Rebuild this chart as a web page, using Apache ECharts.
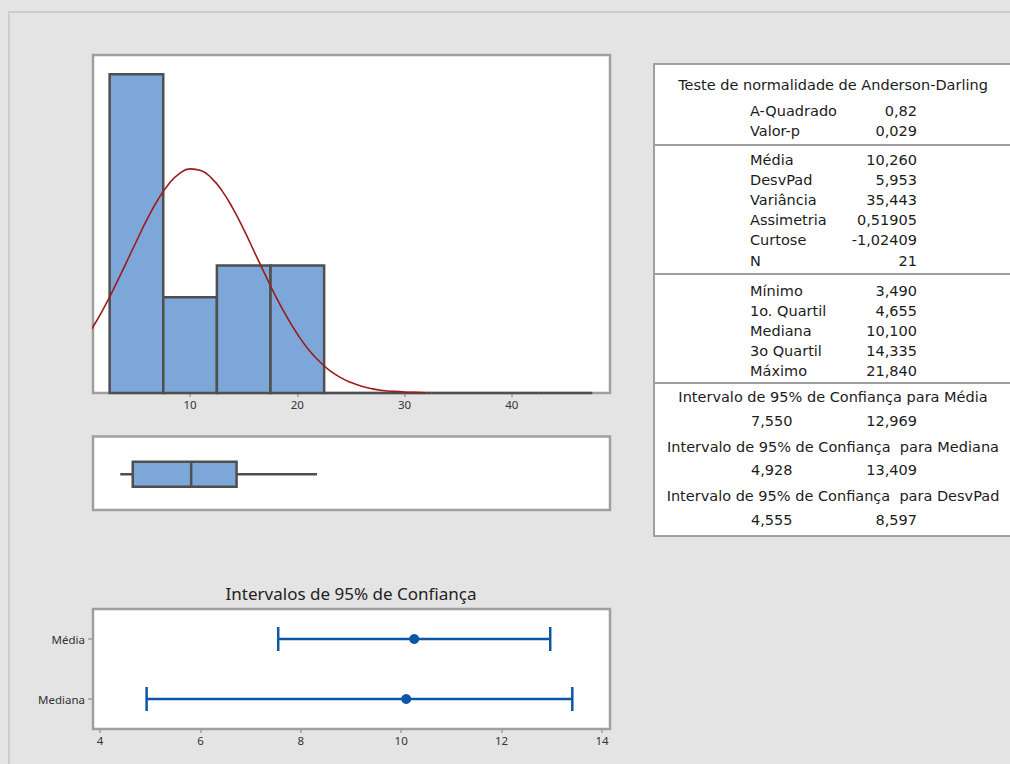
<!DOCTYPE html>
<html>
<head>
<meta charset="utf-8">
<script src="https://cdn.jsdelivr.net/npm/echarts@6/dist/echarts.min.js"></script>
<style>
html,body{margin:0;padding:0;background:#e4e4e4;}
#main{width:1010px;height:764px;}
</style>
</head>
<body>
<div id="main"></div>
<script>
// ---------- data ----------
const histBinEdges = [2.5, 7.5, 12.5, 17.5, 22.5, 27.5, 32.5, 37.5, 42.5, 47.5];
const histCounts   = [10, 3, 4, 4, 0, 0, 0, 0, 0];
const histTicks    = [10, 20, 30, 40];

const curveX = [0,1,2,3,4,5,6,7,8,9,10,11,12,13,14,15,16,17,18,19,20,21,22,23,24,25,26,27,28,29,30,31,32];
const curveY = [1.59,2.10,2.69,3.35,4.05,4.76,5.45,6.06,6.55,6.88,7.03,6.98,6.74,6.33,5.78,5.13,4.42,3.71,3.02,2.40,1.85,1.38,1.01,0.71,0.49,0.33,0.21,0.13,0.08,0.05,0.03,0.02,0.01];

const boxStats = [3.490, 4.655, 10.100, 14.335, 21.840]; // min, Q1, median, Q3, max

const ciCategories = ['Média', 'Mediana'];
const ciLow  = [7.550, 4.928];
const ciMid  = [10.260, 10.100];
const ciHigh = [12.969, 13.409];
const ciTicks = [4, 6, 8, 10, 12, 14];
const ciTitle = 'Intervalos de 95% de Confiança';

const adTitle  = 'Teste de normalidade de Anderson-Darling';
const adLabels = ['A-Quadrado', 'Valor-p'];
const adValues = ['0,82', '0,029'];
const descLabels = ['Média', 'DesvPad', 'Variância', 'Assimetria', 'Curtose', 'N'];
const descValues = ['10,260', '5,953', '35,443', '0,51905', '-1,02409', '21'];
const quantLabels = ['Mínimo', '1o. Quartil', 'Mediana', '3o Quartil', 'Máximo'];
const quantValues = ['3,490', '4,655', '10,100', '14,335', '21,840'];
const ciHeaders = ['Intervalo de 95% de Confiança para Média',
                   'Intervalo de 95% de Confiança  para Mediana',
                   'Intervalo de 95% de Confiança  para DesvPad'];
const ciTableLow  = ['7,550', '4,928', '4,555'];
const ciTableHigh = ['12,969', '13,409', '8,597'];

// ---------- styles ----------
const FRAME = '#9f9f9f';
const BAR_FILL = '#7da7d9';
const BAR_EDGE = '#4f4f4f';
const CURVE = '#9c1b1b';
const CI_BLUE = '#0b57a6';
const AXFONT = 'Noto Sans';
const TABFONT = 'DejaVu Sans';

const histData = histCounts.map((c, i) => [histBinEdges[i], histBinEdges[i + 1], c]);
const curveData = curveX.map((x, i) => [x, curveY[i]]);
const ciData = ciCategories.map((c, i) => [ciLow[i], ciHigh[i], i]);
const ciMidData = ciCategories.map((c, i) => [ciMid[i], i]);

// ---------- table graphics ----------
const graphics = [];
graphics.push({type: 'rect', shape: {x: 9, y: 12, width: 1030, height: 790},
  style: {fill: '#e4e4e4', stroke: '#cdcdcd', lineWidth: 2}, z: -10});
graphics.push({type: 'rect', shape: {x: 654, y: 64, width: 362, height: 472},
  style: {fill: '#ffffff', stroke: FRAME, lineWidth: 2}, z: -5});
[145, 274, 383].forEach(y => graphics.push({type: 'line',
  shape: {x1: 654, y1: y, x2: 1016, y2: y}, style: {stroke: FRAME, lineWidth: 2}}));

function txt(text, x, y, align) {
  return {type: 'text', x: x, y: y,
    style: {text: text, fontFamily: TABFONT, fontSize: 14.5, fill: '#1c1c1c',
      align: align, verticalAlign: 'middle'}};
}
const LX = 750, RX = 917, CX = 833;
graphics.push(txt(adTitle, CX, 85, 'center'));
adLabels.forEach((l, i) => { graphics.push(txt(l, LX, 111 + 20 * i, 'left')); graphics.push(txt(adValues[i], RX, 111 + 20 * i, 'right')); });
descLabels.forEach((l, i) => { graphics.push(txt(l, LX, 160 + 20.1 * i, 'left')); graphics.push(txt(descValues[i], RX, 160 + 20.1 * i, 'right')); });
quantLabels.forEach((l, i) => { graphics.push(txt(l, LX, 291 + 19.9 * i, 'left')); graphics.push(txt(quantValues[i], RX, 291 + 19.9 * i, 'right')); });
ciHeaders.forEach((h, i) => {
  graphics.push(txt(h, CX, 397 + 49.7 * i, 'center'));
  graphics.push(txt(ciTableLow[i], 751, 420.5 + 49.7 * i, 'left'));
  graphics.push(txt(ciTableHigh[i], RX, 420.5 + 49.7 * i, 'right'));
});
graphics.push({type: 'text', x: 351, y: 593,
  style: {text: ciTitle, fontFamily: AXFONT, fontSize: 17, fill: '#222', align: 'center', verticalAlign: 'middle'}});

// ---------- chart ----------
const chart = echarts.init(document.getElementById('main'), null, {renderer: 'svg'});
const gridStyle = {show: true, backgroundColor: '#ffffff', borderColor: FRAME, borderWidth: 2.5, containLabel: false};
const option = {
  backgroundColor: '#e4e4e4',
  animation: false,
  graphic: graphics,
  grid: [
    Object.assign({left: 93, top: 55, width: 517, height: 338}, gridStyle),
    Object.assign({left: 93, top: 436.5, width: 517, height: 73.5}, gridStyle),
    Object.assign({left: 93, top: 609, width: 517, height: 120}, gridStyle)
  ],
  xAxis: [
    {gridIndex: 0, type: 'value', min: 0.95, max: 49.15,
      axisLine: {show: false}, splitLine: {show: false},
      axisTick: {show: true, customValues: histTicks, length: 4, lineStyle: {color: '#a0a0a0', width: 1.5}},
      axisLabel: {customValues: histTicks, fontFamily: AXFONT, fontSize: 11.5, color: '#333', margin: 5}},
    {gridIndex: 1, type: 'value', min: 0.95, max: 49.15, show: false},
    {gridIndex: 2, type: 'value', min: 3.86, max: 14.16,
      axisLine: {show: false}, splitLine: {show: false},
      axisTick: {show: true, customValues: ciTicks, length: 4, lineStyle: {color: '#a0a0a0', width: 1.5}},
      axisLabel: {customValues: ciTicks, fontFamily: AXFONT, fontSize: 11.5, color: '#333', margin: 5}}
  ],
  yAxis: [
    {gridIndex: 0, type: 'value', min: 0, max: 10.6, show: false},
    {gridIndex: 1, type: 'value', min: 0, max: 1, show: false},
    {gridIndex: 2, type: 'category', data: ciCategories, inverse: true,
      axisLine: {show: false}, splitLine: {show: false},
      axisTick: {show: true, alignWithLabel: true, length: 5, lineStyle: {color: '#a0a0a0', width: 1.5}},
      axisLabel: {fontFamily: AXFONT, fontSize: 11.5, color: '#333', margin: 8}}
  ],
  series: [
    {type: 'custom', xAxisIndex: 0, yAxisIndex: 0, data: histData, z: 2,
      renderItem: function (params, api) {
        const a = api.coord([api.value(0), api.value(2)]);
        const b = api.coord([api.value(1), 0]);
        if (api.value(2) > 0) {
          return {type: 'rect', shape: {x: a[0], y: a[1], width: b[0] - a[0], height: b[1] - a[1]},
            style: {fill: BAR_FILL, stroke: BAR_EDGE, lineWidth: 2.5}};
        }
        return {type: 'line', shape: {x1: a[0], y1: b[1], x2: b[0], y2: b[1]},
          style: {stroke: BAR_EDGE, lineWidth: 2.5}};
      }},
    {type: 'line', xAxisIndex: 0, yAxisIndex: 0, data: curveData, smooth: true, showSymbol: false,
      clip: true, z: 3, lineStyle: {color: CURVE, width: 1.6}},
    {type: 'custom', xAxisIndex: 1, yAxisIndex: 1, data: [boxStats], z: 2,
      renderItem: function (params, api) {
        const yc = api.coord([0, 0.5])[1] + 1;
        const h = 25;
        const pMin = api.coord([api.value(0), 0.5])[0];
        const pQ1 = api.coord([api.value(1), 0.5])[0];
        const pMed = api.coord([api.value(2), 0.5])[0];
        const pQ3 = api.coord([api.value(3), 0.5])[0];
        const pMax = api.coord([api.value(4), 0.5])[0];
        const ls = {stroke: BAR_EDGE, lineWidth: 2.5};
        return {type: 'group', children: [
          {type: 'line', shape: {x1: pMin, y1: yc, x2: pQ1, y2: yc}, style: ls},
          {type: 'line', shape: {x1: pQ3, y1: yc, x2: pMax, y2: yc}, style: ls},
          {type: 'rect', shape: {x: pQ1, y: yc - h / 2, width: pQ3 - pQ1, height: h},
            style: {fill: BAR_FILL, stroke: BAR_EDGE, lineWidth: 2.5}},
          {type: 'line', shape: {x1: pMed, y1: yc - h / 2, x2: pMed, y2: yc + h / 2}, style: ls}
        ]};
      }},
    {type: 'custom', xAxisIndex: 2, yAxisIndex: 2, data: ciData, z: 2,
      renderItem: function (params, api) {
        const l = api.coord([api.value(0), api.value(2)]);
        const r = api.coord([api.value(1), api.value(2)]);
        const cap = 12;
        const ls = {stroke: CI_BLUE, lineWidth: 2.5};
        return {type: 'group', children: [
          {type: 'line', shape: {x1: l[0], y1: l[1], x2: r[0], y2: r[1]}, style: ls},
          {type: 'line', shape: {x1: l[0], y1: l[1] - cap, x2: l[0], y2: l[1] + cap}, style: ls},
          {type: 'line', shape: {x1: r[0], y1: r[1] - cap, x2: r[0], y2: r[1] + cap}, style: ls}
        ]};
      }},
    {type: 'scatter', xAxisIndex: 2, yAxisIndex: 2, data: ciMidData, symbol: 'circle',
      symbolSize: 10, z: 3, itemStyle: {color: CI_BLUE, opacity: 1}}
  ]
};
chart.setOption(option);
</script>
</body>
</html>
